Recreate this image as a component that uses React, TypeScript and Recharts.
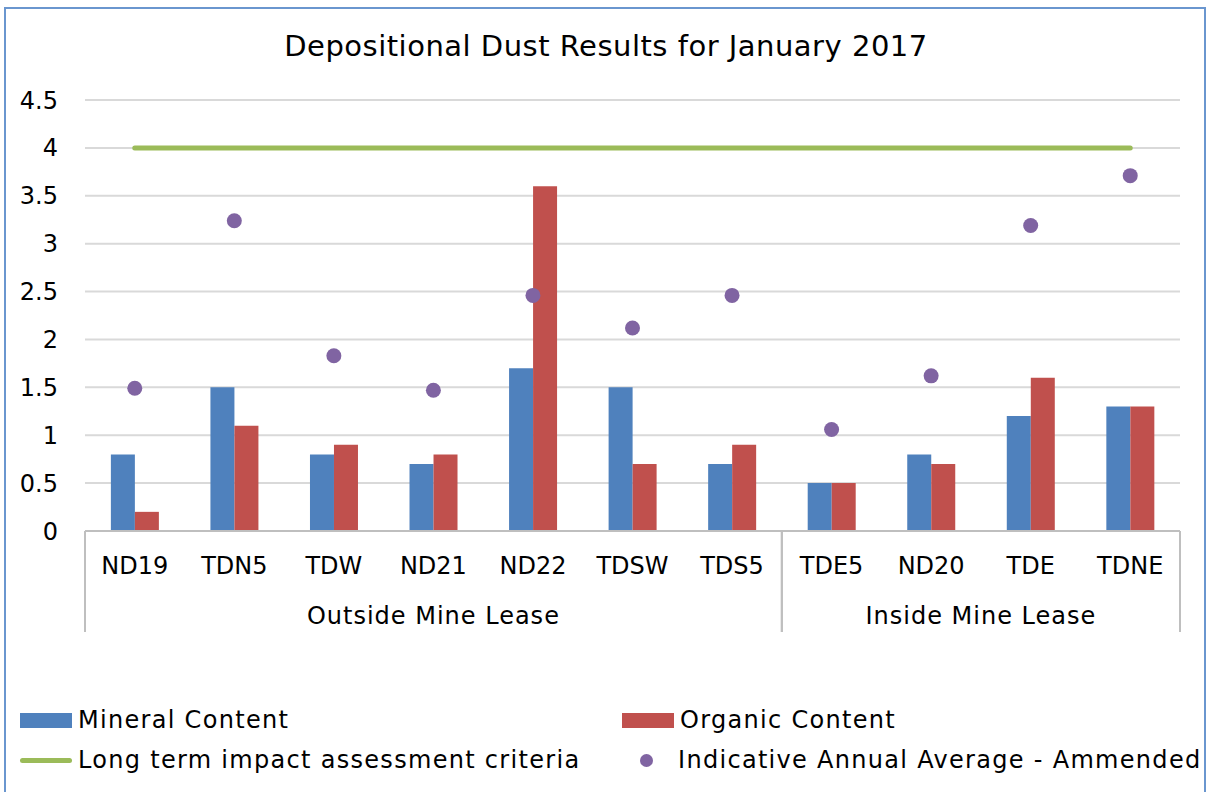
import { ComposedChart, Bar, Line, XAxis, YAxis, CartesianGrid } from 'recharts';

const categories = ['ND19', 'TDN5', 'TDW', 'ND21', 'ND22', 'TDSW', 'TDS5', 'TDE5', 'ND20', 'TDE', 'TDNE'];
const groups = [
  { name: 'Outside Mine Lease', count: 7 },
  { name: 'Inside Mine Lease', count: 4 },
];
const mineral = [0.8, 1.5, 0.8, 0.7, 1.7, 1.5, 0.7, 0.5, 0.8, 1.2, 1.3];
const organic = [0.2, 1.1, 0.9, 0.8, 3.6, 0.7, 0.9, 0.5, 0.7, 1.6, 1.3];
const criteria = [4, 4, 4, 4, 4, 4, 4, 4, 4, 4, 4];
const annualAvg = [1.49, 3.24, 1.83, 1.47, 2.46, 2.12, 2.46, 1.06, 1.62, 3.19, 3.71];
const yTicks = [0, 0.5, 1, 1.5, 2, 2.5, 3, 3.5, 4, 4.5];

const data = categories.map((name, i) => ({
  name,
  mineral: mineral[i],
  organic: organic[i],
  criteria: criteria[i],
  annual: annualAvg[i],
}));

// which group each category index belongs to
const groupInfo: { name: string; start: number; end: number; count: number }[] = [];
let pos = 0;
groups.forEach((g) => {
  groupInfo.push({ name: g.name, start: pos, end: pos + g.count - 1, count: g.count });
  pos += g.count;
});

const FONT = '"DejaVu Sans", sans-serif';
const W = 1212;
const H = 792;
const Y_AXIS_W = 85;
const MARGIN = { top: 100, right: 32, left: 0, bottom: 160 };
const X_AXIS_H = 101;
const BAND = (W - MARGIN.left - MARGIN.right - Y_AXIS_W) / categories.length;

const COLORS = {
  mineral: '#4f81bd',
  organic: '#c0504d',
  criteria: '#9bbb59',
  annual: '#8064a2',
  axis: '#bfbfbf',
  grid: '#d9d9d9',
};

const CategoryTick = (props: any) => {
  const { x, y, index, payload } = props;
  const g = groupInfo.find((gi) => index >= gi.start && index <= gi.end);
  return (
    <g>
      <text x={x} y={y + 43} textAnchor="middle" fontSize={24} fill="#000" fontFamily={FONT}>
        {payload.value}
      </text>
      {g && index === g.start && (
        <>
          <line x1={x - BAND / 2} x2={x - BAND / 2} y1={y} y2={y + X_AXIS_H} stroke={COLORS.axis} strokeWidth={2} />
          <text
            x={x - BAND / 2 + (g.count * BAND) / 2}
            y={y + 93}
            textAnchor="middle"
            fontSize={24}
            fill="#000"
            fontFamily={FONT}
            letterSpacing={1}
          >
            {g.name}
          </text>
        </>
      )}
      {g && index === g.end && (
        <line x1={x + BAND / 2} x2={x + BAND / 2} y1={y} y2={y + X_AXIS_H} stroke={COLORS.axis} strokeWidth={2} />
      )}
    </g>
  );
};

const legendItems = [
  { label: 'Mineral Content', color: COLORS.mineral, kind: 'rect', left: 20, top: 720 },
  { label: 'Organic Content', color: COLORS.organic, kind: 'rect', left: 622, top: 720 },
  { label: 'Long term impact assessment criteria', color: COLORS.criteria, kind: 'line', left: 20, top: 760 },
  { label: 'Indicative Annual Average - Ammended', color: COLORS.annual, kind: 'dot', left: 620, top: 760 },
];

const LegendMarker = ({ kind, color }: { kind: string; color: string }) => {
  if (kind === 'rect') return <div style={{ width: 52, height: 15, background: color }} />;
  if (kind === 'line') return <div style={{ width: 52, height: 5, borderRadius: 3, background: color }} />;
  return (
    <div style={{ width: 52, display: 'flex', justifyContent: 'center' }}>
      <div style={{ width: 13, height: 13, borderRadius: '50%', background: color }} />
    </div>
  );
};

export default function App() {
  return (
    <div style={{ position: 'absolute', left: 0, top: 0, width: W, height: H, overflow: 'hidden', background: '#fff', fontFamily: FONT }}>
      <div
        style={{
          position: 'absolute',
          left: 4,
          top: 7,
          width: 1202,
          height: 800,
          border: '2px solid #6a96cf',
          boxSizing: 'border-box',
        }}
      />
      <div
        style={{
          position: 'absolute',
          left: 0,
          top: 29,
          width: W,
          textAlign: 'center',
          fontSize: 29,
          letterSpacing: 0.5,
          color: '#000',
        }}
      >
        Depositional Dust Results for January 2017
      </div>
      <div style={{ position: 'absolute', left: 0, top: 0 }}>
        <ComposedChart
          width={W}
          height={H}
          data={data}
          margin={MARGIN}
          barGap={0}
          barCategoryGap="26%"
          style={{ fontFamily: FONT }}
        >
          <CartesianGrid horizontal vertical={false} stroke={COLORS.grid} strokeWidth={2} />
          <XAxis
            dataKey="name"
            height={X_AXIS_H}
            interval={0}
            tickLine={false}
            tickSize={0}
            tickMargin={0}
            axisLine={{ stroke: COLORS.axis, strokeWidth: 2 }}
            tick={<CategoryTick />}
          />
          <YAxis
            width={Y_AXIS_W}
            domain={[0, 4.5]}
            ticks={yTicks}
            interval={0}
            axisLine={false}
            tickLine={false}
            tickSize={0}
            tickMargin={27}
            tick={{ fontSize: 24, fill: '#000', fontFamily: FONT }}
          />
          <Bar dataKey="mineral" name="Mineral Content" fill={COLORS.mineral} isAnimationActive={false} />
          <Bar dataKey="organic" name="Organic Content" fill={COLORS.organic} isAnimationActive={false} />
          <Line
            dataKey="criteria"
            name="Long term impact assessment criteria"
            stroke={COLORS.criteria}
            strokeWidth={5}
            strokeLinecap="round"
            dot={false}
            activeDot={false}
            isAnimationActive={false}
          />
          <Line
            dataKey="annual"
            name="Indicative Annual Average - Ammended"
            stroke="none"
            dot={{ r: 7.5, fill: COLORS.annual, stroke: 'none' }}
            activeDot={false}
            isAnimationActive={false}
          />
        </ComposedChart>
      </div>
      {legendItems.map((item) => (
        <div
          key={item.label}
          style={{
            position: 'absolute',
            left: item.left,
            top: item.top,
            transform: 'translateY(-50%)',
            display: 'flex',
            alignItems: 'center',
            gap: 6,
            fontSize: 24,
            letterSpacing: 1.3,
            color: '#000',
            whiteSpace: 'nowrap',
          }}
        >
          <LegendMarker kind={item.kind} color={item.color} />
          <span>{item.label}</span>
        </div>
      ))}
    </div>
  );
}
